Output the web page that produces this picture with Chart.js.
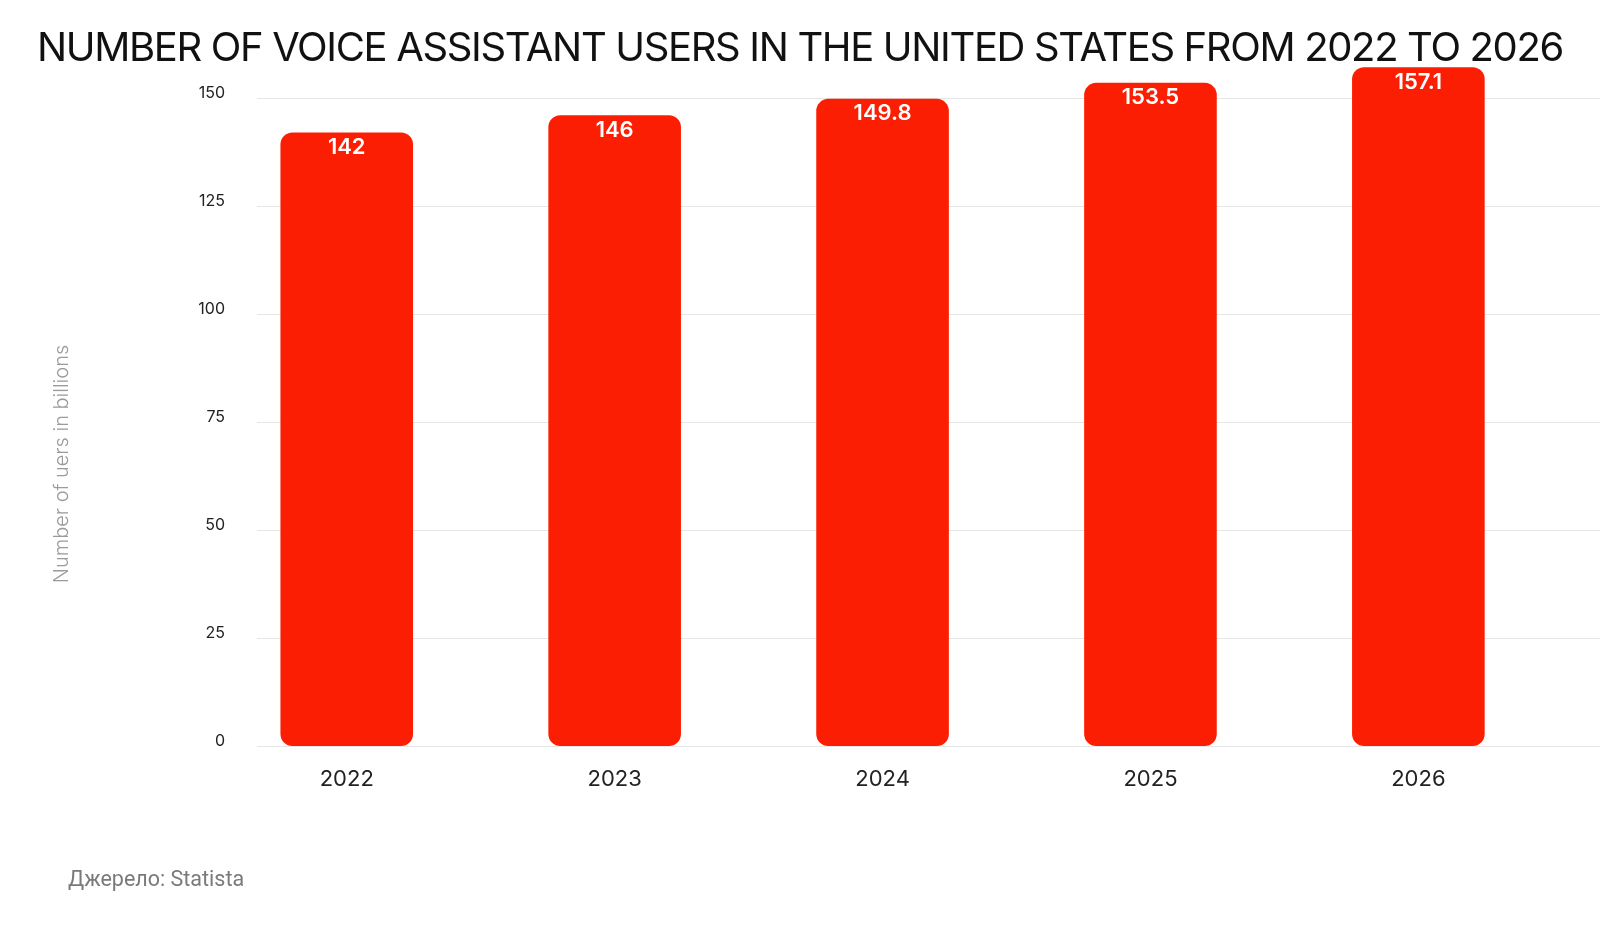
<!DOCTYPE html>
<html>
<head>
<meta charset="utf-8">
<script src="https://cdn.jsdelivr.net/npm/chart.js@4.4.1/dist/chart.umd.min.js"></script>
<style>
    html, body { margin: 0; padding: 0; background: #fff; }
    #wrap { position: relative; width: 1600px; height: 929px; }
    #title {
        position: absolute; left: 0; top: 22px; width: 1600px; text-align: center;
        font-family: Inter, sans-serif; font-size: 40px; font-weight: 400;
        letter-spacing: -1.35px; color: #111; white-space: nowrap;
    }
    #source {
        position: absolute; left: 68px; top: 866px;
        font-family: Roboto, sans-serif; font-size: 21.5px; color: #7a7a7a;
    }
</style>
</head>
<body>
<div id="wrap">
    <canvas id="myChart" width="1600" height="929"></canvas>
    <div id="title">NUMBER OF VOICE ASSISTANT USERS IN THE UNITED STATES FROM 2022 TO 2026</div>
    <div id="source">Джерело: Statista</div>
</div>
<script>
    // Chart data
    const years = ['2022', '2023', '2024', '2025', '2026']
    const users = [142, 146, 149.8, 153.5, 157.1]
    const yTicks = [0, 25, 50, 75, 100, 125, 150]
    const yTitle = 'Number of uers in billions'

    const BAR_RED = '#fc1e02'
    const FONT = 'Inter, "Noto Sans", sans-serif'

    // Bars sit a little left of the grid's middle, so x is an index axis
    let points = users.map(function (value, index) {
        return { x: index, y: value }
    })

    // Writes the value near the top of each bar
    const valueLabels = {
        id: 'valueLabels',
        afterDatasetsDraw(chart) {
            let ctx = chart.ctx
            let meta = chart.getDatasetMeta(0)
            ctx.save()
            ctx.fillStyle = '#ffffff'
            ctx.font = '600 22px ' + FONT
            ctx.textAlign = 'center'
            ctx.textBaseline = 'top'
            meta.data.forEach(function (bar, index) {
                ctx.fillText(String(users[index]), bar.x, bar.y + 4)
            })
            ctx.restore()
        }
    }

    // Y axis title sits a bit below the middle in the original
    const axisTitle = {
        id: 'axisTitle',
        afterDraw(chart) {
            let ctx = chart.ctx
            ctx.save()
            ctx.translate(62, 464)
            ctx.rotate(-Math.PI / 2)
            ctx.fillStyle = '#9a9a9a'
            ctx.font = '300 20px ' + FONT
            ctx.textAlign = 'center'
            ctx.textBaseline = 'middle'
            ctx.fillText(yTitle, 0, 0)
            ctx.restore()
        }
    }

    let ctx = document.getElementById('myChart')
    let myChart = new Chart(ctx, {
        type: 'bar',
        data: {
            datasets: [{
                label: 'Users',
                data: points,
                backgroundColor: BAR_RED,
                borderRadius: 12,
                borderSkipped: false,
                barPercentage: 0.495,
                categoryPercentage: 1.0,
                clip: false
            }]
        },
        options: {
            responsive: false,
            animation: false,
            layout: {
                padding: { left: 45, right: 0, top: 98, bottom: 124 }
            },
            plugins: {
                legend: { display: false },
                tooltip: { enabled: false },
                title: { display: false }
            },
            scales: {
                x: {
                    type: 'linear',
                    offset: false,
                    min: -0.335,
                    max: 4.678,
                    afterBuildTicks: function (scale) {
                        scale.ticks = years.map(function (y, i) { return { value: i } })
                    },
                    grid: { display: false },
                    border: { display: false },
                    ticks: {
                        color: '#222222',
                        font: { family: FONT, size: 22 },
                        padding: 12,
                        callback: function (value) { return years[value] }
                    }
                },
                y: {
                    min: 0,
                    max: 150,
                    afterBuildTicks: function (scale) {
                        scale.ticks = yTicks.map(function (v) { return { value: v } })
                    },
                    afterFit: function (scale) {
                        scale.width = 212
                    },
                    grid: { color: '#e6e6e6', drawTicks: false },
                    border: { display: false },
                    ticks: {
                        color: '#222222',
                        font: { family: FONT, size: 16 },
                        padding: 32,
                        labelOffset: -5
                    }
                }
            }
        },
        plugins: [valueLabels, axisTitle]
    })
</script>
</body>
</html>
